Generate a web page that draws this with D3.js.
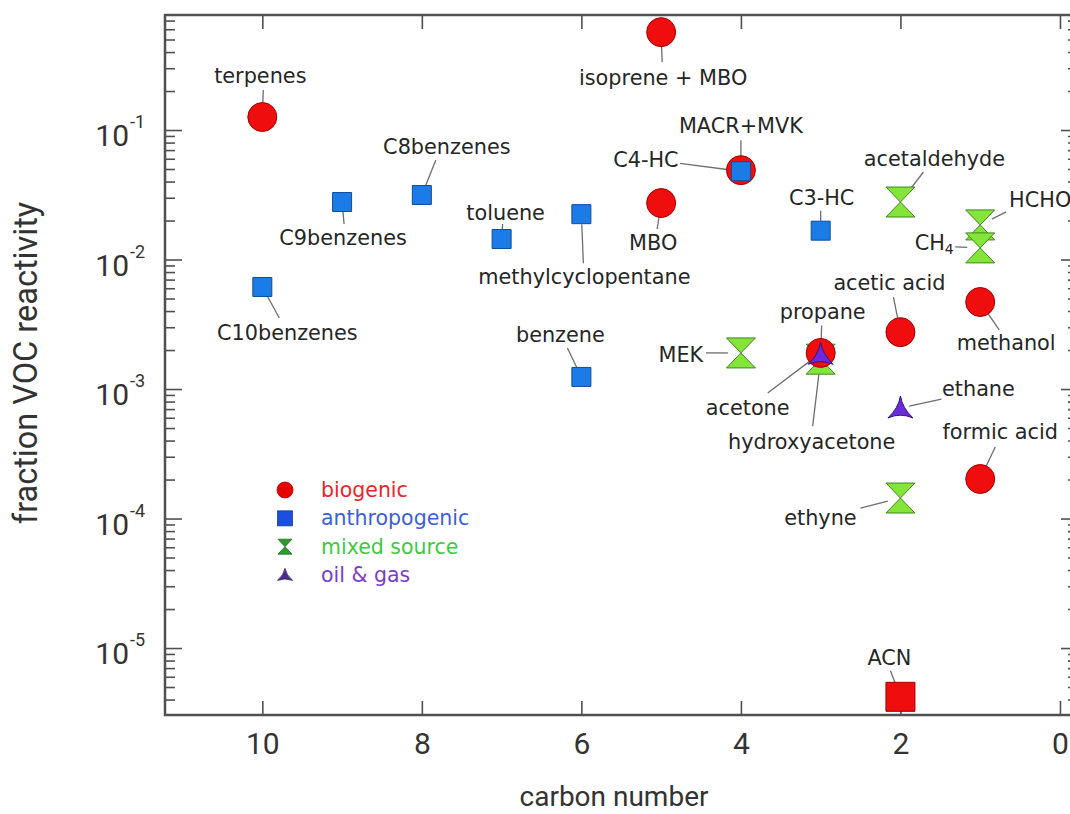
<!DOCTYPE html>
<html>
<head>
<meta charset="utf-8">
<script src="https://cdn.jsdelivr.net/npm/d3@7"></script>
<style>
  body { margin: 0; background: #fff; }
  svg { display: block; }
</style>
</head>
<body>
<svg id="chart" width="1070" height="814"></svg>
<script>
// VOC reactivity fraction by carbon number, grouped by source type
const compounds = ["terpenes", "isoprene + MBO", "MACR+MVK", "C4-HC", "MBO", "C3-HC",
  "methylcyclopentane", "toluene", "benzene", "C8benzenes", "C9benzenes", "C10benzenes",
  "acetaldehyde", "HCHO", "CH4", "acetic acid", "methanol", "hydroxyacetone", "acetone",
  "propane", "MEK", "ethane", "formic acid", "ethyne", "ACN"];
const carbonNumber = [10, 5, 4, 4, 5, 3, 6, 7, 6, 8, 9, 10, 2, 1, 1, 2, 1, 3, 3, 3, 4, 2, 1, 2, 2];
const vocFraction = [0.126, 0.57, 0.049, 0.048, 0.0273, 0.0167, 0.0224, 0.0144, 0.00124,
  0.0315, 0.0278, 0.00614, 0.0278, 0.0185, 0.0123, 0.00275, 0.0047, 0.0017, 0.0019,
  0.00185, 0.0019, 0.000713, 0.000202, 0.000144, 4.2e-6];
const sourceType = ["biogenic", "biogenic", "biogenic", "anthropogenic", "biogenic", "anthropogenic",
  "anthropogenic", "anthropogenic", "anthropogenic", "anthropogenic", "anthropogenic", "anthropogenic",
  "mixed", "mixed", "mixed", "biogenic", "biogenic", "mixed", "biogenic",
  "oilgas", "mixed", "oilgas", "biogenic", "mixed", "burning"];

const xTickValues = [0, 2, 4, 6, 8, 10];
const yDecadeExponents = [-5, -4, -3, -2, -1];
const legendKeys = ["biogenic", "anthropogenic", "mixed", "oilgas"];
const legendLabels = ["biogenic", "anthropogenic", "mixed source", "oil & gas"];

// label placement: text centre offset (dx, dy) and leader-line start offset (lx, ly)
const labelLayout = {
  "terpenes": [-2, -41, 1, -27],
  "isoprene + MBO": [2, 46, 1, 30],
  "MACR+MVK": [0, -44, 0, -30],
  "C4-HC": [-95, -11, -61, -8],
  "MBO": [-8, 40, -4, 26],
  "C3-HC": [1, -33, 0, -20],
  "methylcyclopentane": [3, 63, 2, 49],
  "toluene": [4, -26, 1, -15],
  "benzene": [-21, -42, -14, -29],
  "C8benzenes": [25, -48, 14, -35],
  "C9benzenes": [1, 36, 2, 22],
  "C10benzenes": [25, 46, 17, 31],
  "acetaldehyde": [34, -43, 23, -30],
  "HCHO": [60, -25, 26, -13],
  "CH4": [-46, -5, -25, -1],
  "acetic acid": [-11, -49, -7, -35],
  "methanol": [26, 41, 19, 28],
  "hydroxyacetone": [-9, 83, -8, 67],
  "acetone": [-73, 55, -53, 40],
  "propane": [2, -42, 1, -29],
  "MEK": [-60, 2, -35, 0],
  "ethane": [78, -19, 41, -9],
  "formic acid": [20, -47, 15, -32],
  "ethyne": [-80, 20, -40, 10],
  "ACN": [-11, -39, -10, -26]
};

const points = compounds.map((name, i) => ({
  name, c: carbonNumber[i], v: vocFraction[i], src: sourceType[i]
}));

const frame = { left: 165, top: 15, right: 1078, bottom: 715 };

const x = d3.scaleLinear().domain([11.22, -0.226]).range([frame.left, frame.right]);
const y = d3.scaleLog().domain([3.04e-6, 0.773]).range([frame.bottom, frame.top]);

const svg = d3.select("#chart");

// marker shapes
function hourglass(w, h) {
  return `M${-w / 2},${-h / 2}H${w / 2}L0,0L${w / 2},${h / 2}H${-w / 2}L0,0Z`;
}
function tripod(w, h) {
  const t = -h * 0.55, b = h * 0.45;
  return `M0,${t}Q${w * 0.08},0 ${w / 2},${b}Q0,${h * 0.2} ${-w / 2},${b}Q${-w * 0.08},0 0,${t}Z`;
}
function square(s) {
  return `M${-s / 2},${-s / 2}H${s / 2}V${s / 2}H${-s / 2}Z`;
}
function circle(r) {
  return `M${r},0A${r},${r} 0 1,1 ${-r},0A${r},${r} 0 1,1 ${r},0Z`;
}

const markerStyle = {
  biogenic:      { d: circle(14.5), fill: "#ef0d0d", stroke: "#a30000", gap: 14 },
  anthropogenic: { d: square(19),   fill: "#1b7ce8", stroke: "#0e4c9c", gap: 10 },
  mixed:         { d: hourglass(29, 30), fill: "#84e43a", stroke: "#3c8a1f", gap: 13 },
  oilgas:        { d: tripod(25, 22), fill: "#6b2bd6", stroke: "#35128a", gap: 9 },
  burning:       { d: square(29),   fill: "#ef0d0d", stroke: "#a30000", gap: 15 }
};

const legendStyle = {
  biogenic:      { d: circle(8),   fill: "#e60000", stroke: "#b00000" },
  anthropogenic: { d: square(15),  fill: "#1b4fe0", stroke: "#103aa0" },
  mixed:         { d: hourglass(14, 15), fill: "#2e9a2e", stroke: "#1d6e1d" },
  oilgas:        { d: tripod(15, 12), fill: "#4a2a8c", stroke: "#2e1860" }
};
const legendTextColor = {
  biogenic: "#e8262a", anthropogenic: "#3a5fe0", mixed: "#3ccb3c", oilgas: "#7a3ccc"
};

// ----- axes (ticks point into the plot) -----
const minorTicks = [];
for (let e = -6; e <= -1; e++) {
  for (let m = 2; m <= 9; m++) {
    const v = m * Math.pow(10, e);
    if (v > y.domain()[0] && v < y.domain()[1]) minorTicks.push(v);
  }
}
const majorTicks = yDecadeExponents.map(e => Math.pow(10, e));

const axisColor = "#505050";

function styleAxis(g) {
  g.select(".domain").remove();
  g.selectAll(".tick line").attr("stroke", axisColor).attr("stroke-width", 1.6);
}

svg.append("g").attr("transform", `translate(0,${frame.bottom})`)
  .call(d3.axisBottom(x).tickValues(xTickValues).tickSize(-14).tickSizeOuter(0)
    .tickPadding(18).tickFormat(d3.format("d")))
  .call(styleAxis)
  .call(g => g.selectAll(".tick text")
    .attr("font-family", "Roboto, sans-serif").attr("font-size", 30).attr("fill", "#333"));

svg.append("g").attr("transform", `translate(0,${frame.top})`)
  .call(d3.axisTop(x).tickValues(xTickValues).tickSize(-14).tickSizeOuter(0).tickFormat(""))
  .call(styleAxis);

svg.append("g").attr("transform", `translate(${frame.left},0)`)
  .call(d3.axisLeft(y).tickValues(majorTicks).tickSize(-17).tickSizeOuter(0).tickFormat(""))
  .call(styleAxis);
svg.append("g").attr("transform", `translate(${frame.left},0)`)
  .call(d3.axisLeft(y).tickValues(minorTicks).tickSize(-10).tickSizeOuter(0).tickFormat(""))
  .call(styleAxis);
svg.append("g").attr("transform", `translate(${frame.right},0)`)
  .call(d3.axisRight(y).tickValues(majorTicks).tickSize(-17).tickSizeOuter(0).tickFormat(""))
  .call(styleAxis);
svg.append("g").attr("transform", `translate(${frame.right},0)`)
  .call(d3.axisRight(y).tickValues(minorTicks).tickSize(-10).tickSizeOuter(0).tickFormat(""))
  .call(styleAxis);

// y tick labels as powers of ten
const yLab = svg.append("g").attr("font-family", "Roboto, sans-serif").attr("fill", "#333");
yDecadeExponents.forEach(e => {
  const ty = y(Math.pow(10, e));
  yLab.append("text").attr("x", 129).attr("y", ty + 16)
    .attr("text-anchor", "end").attr("font-size", 30).text("10");
  yLab.append("text").attr("x", 130).attr("y", ty - 2)
    .attr("text-anchor", "start").attr("font-size", 18).text(String(e));
});

// plot frame
svg.append("rect")
  .attr("x", frame.left).attr("y", frame.top)
  .attr("width", frame.right - frame.left).attr("height", frame.bottom - frame.top)
  .attr("fill", "none").attr("stroke", axisColor).attr("stroke-width", 2.5);

// axis titles
svg.append("text")
  .attr("x", 614).attr("y", 806).attr("text-anchor", "middle")
  .attr("font-family", "Roboto, sans-serif").attr("font-size", 28).attr("fill", "#333")
  .text("carbon number");
svg.append("text")
  .attr("transform", "translate(37,363) rotate(-90)").attr("text-anchor", "middle")
  .attr("font-family", "Roboto, sans-serif").attr("font-size", 32.5).attr("fill", "#333")
  .text("fraction VOC reactivity");

// leader lines
const leaders = svg.append("g").attr("stroke", "#6e6e6e").attr("stroke-width", 1.3);
points.forEach(p => {
  const L = labelLayout[p.name];
  if (!L) return;
  const px = x(p.c), py = y(p.v);
  const sx = px + L[2], sy = py + L[3];
  const dx = px - sx, dy = py - sy, len = Math.hypot(dx, dy);
  const gap = markerStyle[p.src].gap;
  if (len <= gap) return;
  leaders.append("line")
    .attr("x1", sx).attr("y1", sy)
    .attr("x2", px - dx / len * gap).attr("y2", py - dy / len * gap);
});

// markers
svg.append("g").selectAll("path.mark").data(points).join("path")
  .attr("class", "mark")
  .attr("transform", d => `translate(${x(d.c)},${y(d.v)})`)
  .attr("d", d => markerStyle[d.src].d)
  .attr("fill", d => markerStyle[d.src].fill)
  .attr("stroke", d => markerStyle[d.src].stroke)
  .attr("stroke-width", 1);

// point labels
const labels = svg.append("g")
  .attr("font-family", "'DejaVu Sans', sans-serif").attr("font-size", 20.8).attr("fill", "#262626");
points.forEach(p => {
  const L = labelLayout[p.name];
  if (!L) return;
  const t = labels.append("text")
    .attr("x", x(p.c) + L[0]).attr("y", y(p.v) + L[1])
    .attr("text-anchor", "middle").attr("dominant-baseline", "central");
  if (p.name === "CH4") {
    t.append("tspan").text("CH");
    t.append("tspan").attr("font-size", 14).attr("dy", 6).text("4");
  } else {
    t.text(p.name);
  }
});

// legend
const legend = svg.append("g");
const legendRowY = d3.scalePoint().domain(legendKeys).range([490, 575]);
legendKeys.forEach((k, i) => {
  const ly = legendRowY(k);
  legend.append("path")
    .attr("transform", `translate(285,${ly})`)
    .attr("d", legendStyle[k].d)
    .attr("fill", legendStyle[k].fill).attr("stroke", legendStyle[k].stroke).attr("stroke-width", 0.8);
  legend.append("text")
    .attr("x", 321).attr("y", ly).attr("dominant-baseline", "central")
    .attr("font-family", "'DejaVu Sans', sans-serif").attr("font-size", 20.5)
    .attr("fill", legendTextColor[k]).text(legendLabels[i]);
});
</script>
</body>
</html>
